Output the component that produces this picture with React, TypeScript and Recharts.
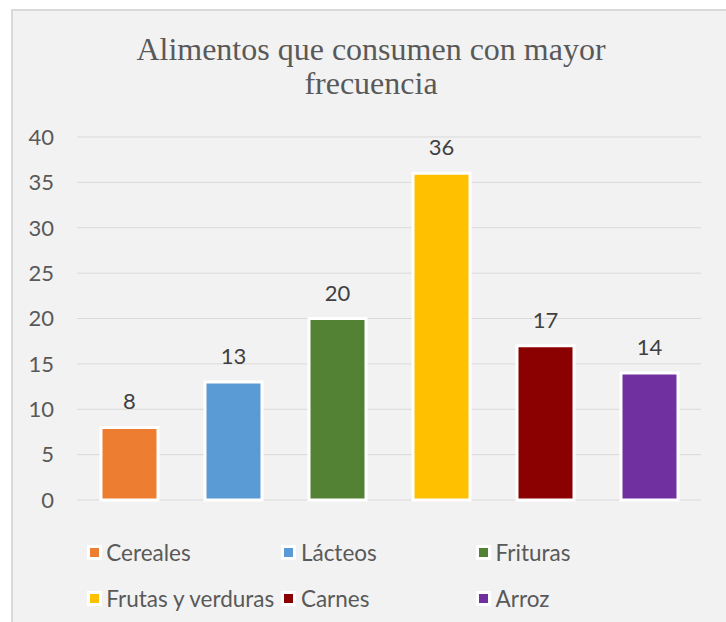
import React from "react";
import { BarChart, Bar, XAxis, YAxis, CartesianGrid, Cell, LabelList } from "recharts";

const categories = ["Cereales", "Lácteos", "Frituras", "Frutas y verduras", "Carnes", "Arroz"];
const values = [8, 13, 20, 36, 17, 14];
const colors = ["#ED7D31", "#5B9BD5", "#548235", "#FFC000", "#8B0000", "#7030A0"];
const yTicks = [0, 5, 10, 15, 20, 25, 30, 35, 40];
const titleLines = ["Alimentos que consumen con mayor", "frecuencia"];

const data = categories.map((name, i) => ({ name, value: values[i] }));

const SANS = "Lato, 'Open Sans', sans-serif";
const legendCols = [86.7, 281.3, 476];
const legendRows = [552, 598];

export default function App() {
  return (
    <div style={{ position: "absolute", left: 0, top: 0, width: 726, height: 622, background: "#ffffff", overflow: "hidden" }}>
      <div
        style={{
          position: "absolute",
          left: 11,
          top: 9,
          width: 740,
          height: 640,
          background: "#f2f2f2",
          borderTop: "2px solid #d9d9d9",
          borderLeft: "2px solid #d9d9d9",
        }}
      />
      <div
        style={{
          position: "absolute",
          left: 71,
          top: 32,
          width: 600,
          textAlign: "center",
          fontFamily: "'Liberation Serif', 'Times New Roman', serif",
          fontSize: 32,
          lineHeight: "34px",
          color: "#595959",
          whiteSpace: "nowrap",
        }}
      >
        {titleLines.map((l, i) => (
          <div key={i}>{l}</div>
        ))}
      </div>
      <div style={{ position: "absolute", left: 0, top: 0 }}>
        <BarChart width={726} height={622} data={data} margin={{ top: 137, right: 25, bottom: 122, left: 0 }}>
          <CartesianGrid vertical={false} stroke="#d9d9d9" strokeWidth={1} />
          <XAxis dataKey="name" hide />
          <YAxis
            width={77}
            domain={[0, 40]}
            ticks={yTicks}
            interval={0}
            axisLine={false}
            tickLine={false}
            tickSize={0}
            tickMargin={23}
            tick={{ fill: "#595959", fontSize: 22, fontFamily: SANS }}
          />
          <Bar dataKey="value" barSize={57} stroke="#ffffff" strokeWidth={3} isAnimationActive={false}>
            {data.map((d, i) => (
              <Cell key={d.name} fill={colors[i]} />
            ))}
            <LabelList dataKey="value" position="top" offset={18} fill="#404040" fontSize={22} fontFamily={SANS} />
          </Bar>
        </BarChart>
      </div>
      {categories.map((name, i) => {
        const col = i % 3;
        const row = Math.floor(i / 3);
        return (
          <div
            key={name}
            style={{
              position: "absolute",
              left: legendCols[col],
              top: legendRows[row] - 15,
              height: 30,
              display: "flex",
              alignItems: "center",
              whiteSpace: "nowrap",
              fontFamily: SANS,
              fontSize: 22.5,
              color: "#595959",
            }}
          >
            <div
              style={{
                width: 9,
                height: 9,
                background: colors[i],
                border: "3.5px solid #ffffff",
                marginRight: 4.6,
                flexShrink: 0,
              }}
            />
            <span>{name}</span>
          </div>
        );
      })}
    </div>
  );
}
